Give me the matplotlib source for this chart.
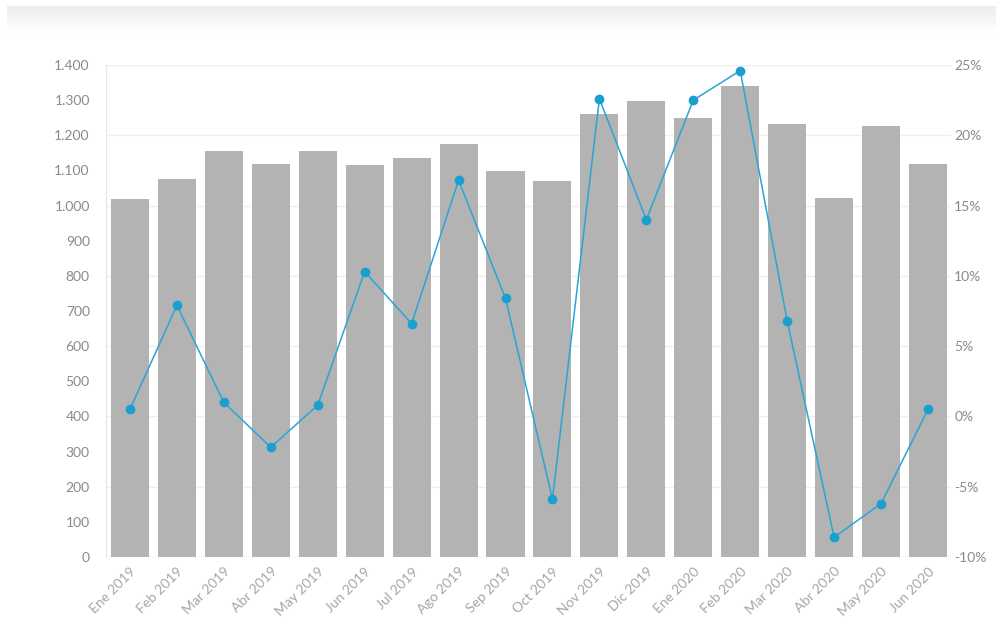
import numpy as np
import matplotlib
matplotlib.use('Agg')
import matplotlib.pyplot as plt
from matplotlib.ticker import FuncFormatter

months = ['Ene 2019', 'Feb 2019', 'Mar 2019', 'Abr 2019', 'May 2019', 'Jun 2019',
          'Jul 2019', 'Ago 2019', 'Sep 2019', 'Oct 2019', 'Nov 2019', 'Dic 2019',
          'Ene 2020', 'Feb 2020', 'Mar 2020', 'Abr 2020', 'May 2020', 'Jun 2020']
volumen = [1020, 1076, 1155, 1118, 1155, 1115, 1135, 1175, 1098, 1070,
           1260, 1298, 1249, 1340, 1232, 1022, 1227, 1118]
variacion = [0.5, 7.9, 1.0, -2.2, 0.8, 10.3, 6.6, 16.8, 8.4, -5.9,
             22.6, 14.0, 22.5, 24.6, 6.8, -8.6, -6.2, 0.5]

plt.rcParams['font.family'] = ['Lato', 'DejaVu Sans']

fig = plt.figure(figsize=(9.96, 6.21), dpi=100)

# faded header strip at the top
strip = fig.add_axes([0.007, 0.945, 0.993, 0.045])
grad = np.linspace(0.93, 1.0, 50).reshape(-1, 1)
strip.imshow(grad, aspect='auto', cmap='gray', vmin=0, vmax=1, extent=[0, 1, 0, 1])
strip.axis('off')

ax = fig.add_axes([0.1069, 0.1031, 0.8484, 0.7922])
x = np.arange(len(months))
ax.bar(x, volumen, width=0.81, color='#b3b3b3', zorder=2)
ax.set_xlim(-0.5, len(months) - 0.5)
ax.set_ylim(0, 1400)
ax.set_yticks(range(0, 1401, 100))
ax.yaxis.set_major_formatter(FuncFormatter(lambda v, p: f'{int(v):,}'.replace(',', '.')))
ax.set_xticks(x)
ax.set_xticklabels(months, rotation=45, ha='right', rotation_mode='anchor')
for yv in range(0, 1401, 200):
    ax.axhline(yv, color='#efefef', lw=1, zorder=1)

ax2 = ax.twinx()
ax2.plot(x, variacion, color='#27a6d4', lw=1.1, marker='o', markersize=6,
         markerfacecolor='#1a9fd0', markeredgecolor='#1a9fd0', zorder=3)
ax2.set_ylim(-10, 25)
ax2.set_yticks(range(-10, 26, 5))
ax2.yaxis.set_major_formatter(FuncFormatter(lambda v, p: f'{int(v)}%'))

for a in (ax, ax2):
    for s in a.spines.values():
        s.set_visible(False)
    a.tick_params(length=0, colors='#8a8a8a', labelsize=10)
ax.spines['left'].set_visible(True)
ax.spines['left'].set_color('#e6e6e6')
ax.tick_params(axis='y', pad=12)
ax.tick_params(axis='x', pad=6, colors='#a6a6a6')
ax2.tick_params(axis='y', pad=2)

fig.savefig('out.png', dpi=100, facecolor='white')
